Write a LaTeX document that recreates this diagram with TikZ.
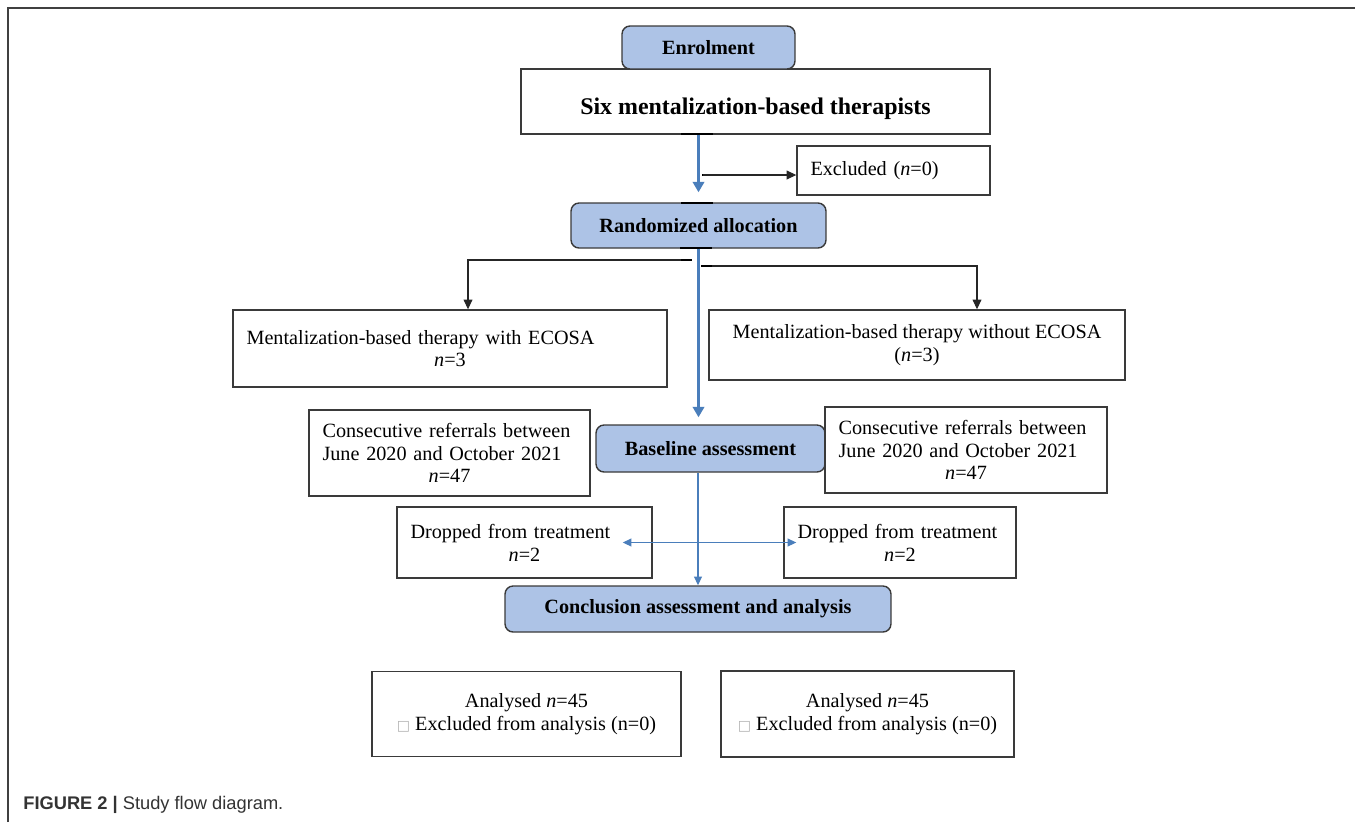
\documentclass[tikz,border=0pt]{standalone}
\usepackage{fontspec}
\setmainfont{Liberation Serif}
\newfontfamily\capfont{Liberation Sans}
\newfontfamily\symfont{DejaVu Sans}
\usepackage{tikz}
\usetikzlibrary{arrows.meta}
\definecolor{boxblue}{HTML}{ADC3E6}
\definecolor{lineblue}{HTML}{4A7EBB}
\definecolor{edgegray}{HTML}{3A3A3A}
\newcommand{\ctrline}[1]{\makebox[\hsize]{#1}}
\newcommand{\sqbox}{{\symfont\color{gray!60}\fontsize{8}{10}\selectfont □}}
\tikzset{>={Triangle[length=5.5pt,width=5pt]}}

\begin{document}
\begin{tikzpicture}[x=0.02cm,y=-0.02cm]
	\tikzset{block/.style={draw=edgegray, line width=.8pt, shape=rectangle, inner sep=0pt, align=center, font=\fontsize{11.5}{13}\selectfont},
		lblock/.style={block, align=left, inner xsep=.27cm},
		rblock/.style={block, fill=boxblue, rounded corners=.16cm, font=\fontsize{11.5}{13}\selectfont\bfseries},
		bluearr/.style={->, >={Triangle[length=6pt,width=6.5pt]}, draw=lineblue, line width=1.8pt},
		bluethin/.style={>={Triangle[length=5pt,width=4.5pt]}, draw=lineblue, line width=.7pt},
		blackarr/.style={->, draw=black!85, line width=.6pt},
		tick/.style={line width=1.3pt, black},
	}
	\useasboundingbox (0,0) rectangle (1355,822);
	\draw[gray!50!black, line width=1.1pt] (8,822) -- (8,8) -- (1355,8);
	\node [block, minimum width=9.38cm, minimum height=1.30cm, text height=15pt, text depth=0pt, font=\fontsize{13.6}{16}\selectfont\bfseries] (six) at (755.5,101.5) {Six mentalization-based therapists};
	\node [rblock, minimum width=3.46cm, minimum height=.86cm] (enrol) at (708.5,47.5) {Enrolment};
	\node [lblock, minimum height=.98cm, text width=3.32cm] (excl) at (893.5,170.5) {Excluded (\textit{n}=0)};
	\node [rblock, minimum width=5.10cm, minimum height=.90cm] (rand) at (698.5,225.5) {Randomized allocation};
	\node [lblock, minimum height=1.54cm, text width=8.14cm] (mbtL) at (450,348.5) {Mentalization-based therapy with ECOSA\\\ctrline{\textit{n}=3}};
	\node [block, minimum width=8.32cm, minimum height=1.40cm] (mbtR) at (917,345) {Mentalization-based therapy without ECOSA\\(\textit{n}=3)};
	\node [lblock, minimum height=1.72cm, text width=5.08cm] (refL) at (449.5,453) {Consecutive referrals between\\June 2020 and October 2021\\\ctrline{\textit{n}=47}};
	\node [rblock, minimum width=4.58cm, minimum height=.94cm] (base) at (710.5,448.5) {Baseline assessment};
	\node [lblock, minimum height=1.72cm, text width=5.10cm] (refR) at (966,450) {Consecutive referrals between\\June 2020 and October 2021\\\ctrline{\textit{n}=47}};
	\node [lblock, minimum height=1.42cm, text width=4.56cm] (dropL) at (524.5,542.5) {Dropped from treatment\\\ctrline{\textit{n}=2}};
	\node [lblock, minimum height=1.42cm, text width=4.10cm] (dropR) at (900,542.5) {Dropped from treatment\\\ctrline{\textit{n}=2}};
	\node [rblock, minimum width=7.72cm, minimum height=.92cm] (concl) at (698,609) {Conclusion assessment and analysis};
	\node [block, minimum width=6.18cm, minimum height=1.70cm] (anaL) at (526.5,714) {Analysed \textit{n}=45\\\sqbox\ Excluded from analysis (n=0)};
	\node [block, minimum width=5.86cm, minimum height=1.72cm] (anaR) at (867.5,714) {Analysed \textit{n}=45\\\sqbox\ Excluded from analysis (n=0)};
	\node [anchor=west, inner sep=0pt, text=black!80, font=\capfont\fontsize{10.4}{12}\selectfont] (cap) at (23,805) {\textbf{FIGURE 2 |} Study flow diagram.};
	\foreach \xa/\xb/\yy in {681/713/134, 681/713/203, 702/713/175, 680/712/248, 680/692/260, 701/712/266}
		\draw [tick] (\xa,\yy) -- (\xb,\yy);
	\coordinate (ex) at (703,175);
	\coordinate (brL) at (681,260);
	\coordinate (brR) at (712,266);
	\draw [blackarr] (ex) -- (ex -| excl.west);
	\draw [blackarr] (brL) -| ([xshift=.36cm]mbtL.north);
	\draw [blackarr] (brR) -| ([xshift=1.2cm]mbtR.north);
	\draw [bluearr, shorten >=.2cm] (six.south -| rand.north) -- (rand.north);
	\draw [bluearr, shorten >=.14cm] (rand.south) -- (rand.south |- base.north);
	\draw [bluethin, ->] (base.south -| concl.north) -- (concl.north);
	\draw [bluethin, <->, shorten <=-.6cm, shorten >=-.26cm] (dropL.east) -- (dropR.west);
\end{tikzpicture}
\end{document}
